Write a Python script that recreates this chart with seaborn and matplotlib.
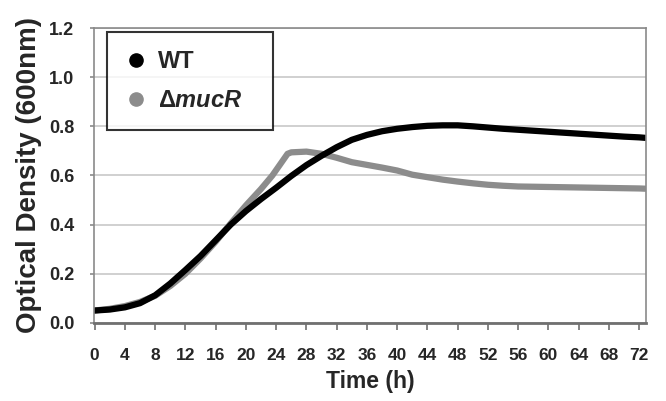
import numpy as np
import pandas as pd
import seaborn as sns
import matplotlib.pyplot as plt
from matplotlib.lines import Line2D

sns.set_style("white")
plt.rcParams['font.family'] = ['Liberation Sans', 'DejaVu Sans']
plt.rcParams['font.weight'] = 'bold'
plt.rcParams['mathtext.fontset'] = 'custom'
plt.rcParams['mathtext.rm'] = 'Liberation Sans'
plt.rcParams['mathtext.bfit'] = 'Liberation Sans:italic:bold'

# growth curves (hours, OD600)
wt_time = [0, 2, 4, 6, 8, 10, 12, 14, 16, 18, 20, 22, 24, 26, 28, 30, 32, 34, 36,
           38, 40, 42, 44, 46, 48, 50, 52, 54, 56, 58, 60, 62, 64, 66, 68, 70, 72, 72.8]
wt_od = [0.050, 0.054, 0.063, 0.080, 0.112, 0.160, 0.215, 0.272, 0.336, 0.400,
         0.455, 0.504, 0.550, 0.598, 0.642, 0.680, 0.715, 0.745, 0.765, 0.780,
         0.790, 0.797, 0.802, 0.804, 0.804, 0.800, 0.795, 0.790, 0.786, 0.782,
         0.778, 0.774, 0.770, 0.766, 0.762, 0.758, 0.755, 0.753]

mucr_time = [0, 2, 4, 6, 8, 10, 12, 14, 16, 18, 20, 22, 23.5, 25.5, 26, 28, 30, 32, 34,
             36, 38, 40, 42, 44, 46, 48, 50, 52, 54, 56, 58, 60, 62, 64, 66, 68, 70, 72, 72.8]
mucr_od = [0.050, 0.057, 0.068, 0.085, 0.110, 0.150, 0.200, 0.262, 0.330, 0.405,
           0.478, 0.545, 0.600, 0.688, 0.694, 0.697, 0.688, 0.672, 0.654, 0.643,
           0.632, 0.620, 0.603, 0.593, 0.583, 0.575, 0.568, 0.562, 0.558, 0.555,
           0.554, 0.553, 0.552, 0.551, 0.550, 0.549, 0.548, 0.547, 0.546]

x_ticks = list(range(0, 73, 4))
y_ticks = [0.0, 0.2, 0.4, 0.6, 0.8, 1.0, 1.2]

df = pd.DataFrame({
    'Time': mucr_time + wt_time,
    'OD': mucr_od + wt_od,
    'Strain': ['mucR'] * len(mucr_time) + ['WT'] * len(wt_time),
})

colors = {'WT': '#000000', 'mucR': '#8c8c8c'}

fig, ax = plt.subplots(figsize=(6.66, 4.01), dpi=100)
fig.subplots_adjust(left=0.141, right=0.970, top=0.930, bottom=0.195)

sns.lineplot(data=df, x='Time', y='OD', hue='Strain', hue_order=['mucR', 'WT'],
             palette=colors, linewidth=4.5, legend=False, ax=ax,
             solid_capstyle='round', solid_joinstyle='round')

ax.set_xlim(-0.1, 72.9)
ax.set_ylim(0, 1.2)
ax.set_xticks(x_ticks)
ax.set_xticklabels([str(t) for t in x_ticks])
ax.set_yticks(y_ticks)
ax.set_yticklabels([f'{v:.1f}' for v in y_ticks])
ax.yaxis.grid(True, color='#c8c8c8', linewidth=1.2)
ax.set_axisbelow(True)

for side, sp in ax.spines.items():
    sp.set_visible(True)
    sp.set_color('#8a8a8a')
    sp.set_linewidth(1.2)
ax.spines['bottom'].set_linewidth(2)
ax.spines['bottom'].set_color('#707070')

ax.tick_params(axis='x', direction='out', length=5, width=1.2, color='#707070',
               pad=13, labelsize=12.5, bottom=True)
ax.tick_params(axis='y', direction='out', length=3, width=1.2, color='#8a8a8a',
               pad=11, labelsize=13, left=True)

ax.set_xlabel('Time (h)', fontsize=16.5, fontweight='bold', labelpad=5)
ax.set_ylabel('Optical Density (600nm)', fontsize=20, fontweight='bold', labelpad=5)

handles = [
    Line2D([], [], linestyle='none', marker='o', markersize=9.5, color=colors['WT']),
    Line2D([], [], linestyle='none', marker='o', markersize=9.5, color=colors['mucR']),
]
leg = ax.legend(handles, ['WT', r'$\Delta\mathbfit{mucR}$'], loc='upper left',
                bbox_to_anchor=(0.0236, 0.986, 0.3007, 0.0), mode='expand',
                fontsize=17, frameon=True, fancybox=False, edgecolor='black',
                borderpad=0.75, labelspacing=0.7, handlelength=1.0,
                handletextpad=0.4, borderaxespad=0)
leg.get_frame().set_linewidth(1.5)
for t in leg.get_texts():
    t.set_fontweight('bold')

plt.savefig('out.png', dpi=100)
